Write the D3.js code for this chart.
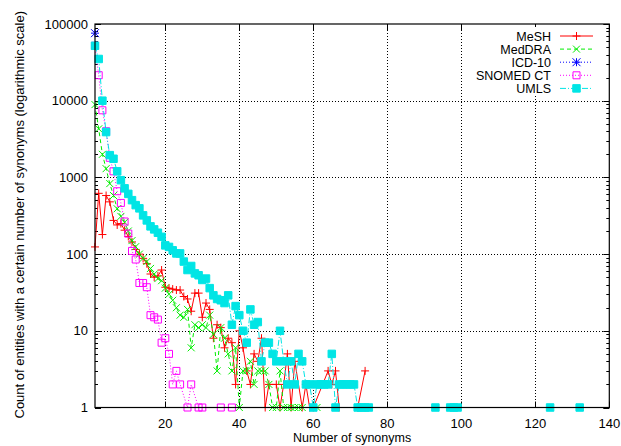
<!DOCTYPE html>
<html>
<head>
<meta charset="utf-8">
<script src="https://cdn.jsdelivr.net/npm/d3@7"></script>
<style>
  body { margin: 0; background: #fff; }
  text { font-family: "Liberation Sans", Arial, sans-serif; }
</style>
</head>
<body>
<div id="chart"></div>
<script>
// synonym counts (x) and number of entities (y) per terminology
var meshX = [1,2,3,4,5,6,7,8,9,10,11,12,13,14,15,16,17,18,19,20,21,22,23,24,25,26,27,28,29,30,31,32,33,34,35,36,37,38,39,40,41,42,43,44,45,46,47,48,50,51,52,53,54,55,57,58,59,60,64,65,66,67,72,74];
var meshY = [124,620,180,580,480,275,240,250,205,170,144,115,100,88,75,55,50,52,62,37,36,35,34,34,28,26,18,31,31,15,23,19,8,12,11,6,8,7,2,10,6,3,2,5,4,8,1,2,2,1,2,5,1,4,1,2,1,1,3,2,3,1,1,3];

var meddraX = [1,2,3,4,5,6,7,8,9,10,11,12,13,14,15,16,17,18,19,20,21,22,23,24,25,26,27,28,29,30,31,32,33,34,35,36,37,38,39,40,41,42,43,44,45,46,47,48,49,50,51,52,53,54,55,56,57,61];
var meddraY = [8900,4300,2000,1300,830,580,390,310,260,200,150,125,100,88,80,65,55,48,45,36,30,25,20,16,15,19,6,12,11,12,11,16,9,3,11,8,5,3,6,1,3,3,4,2,3,3,3,2,1,1,3,1,1,1,1,1,1,1];

var icdX = [1];
var icdY = [76000];

var snomedX = [1,2,3,4,5,6,7,8,9,10,11,12,13,14,15,16,17,18,19,20,21,22,23,24,26,27,29,30,35,38];
var snomedY = [52000,21500,7500,4000,1800,1200,660,465,266,185,110,85,42,42,37,16,15,14,7,8,5,2,3,2,1,2,1,1,1,1];

var umlsX = [1,2,3,4,5,6,7,8,9,10,11,12,13,14,15,16,17,18,19,20,21,22,23,24,25,26,27,28,29,30,31,32,33,34,35,36,37,38,39,40,41,42,43,44,45,46,47,48,49,50,51,52,53,54,55,56,57,58,59,60,61,62,63,64,65,66,67,68,69,70,71,72,73,74,75,93,97,98,99,124,132];
var umlsY = [52000,35000,10000,3900,1950,1750,1200,920,720,610,505,435,395,320,275,230,210,190,168,130,124,112,102,102,80,62,70,56,53,46,48,36,29,26,25,23,29,12,21,16,10,7,19,12,13,4,7,7,5,4,10,4,2,4,2,5,4,2,2,1,2,2,2,2,5,1,2,2,2,2,2,1,1,1,1,1,1,1,1,1,1];

var seriesNames = ["MeSH", "MedDRA", "ICD-10", "SNOMED CT", "UMLS"];
var xTicks = [20, 40, 60, 80, 100, 120, 140];
var yTicks = [1, 10, 100, 1000, 10000, 100000];

var w = 621, h = 446;
var pLeft = 95, pRight = 609.3, pTop = 24, pBottom = 407.5;

var svg = d3.select("#chart").append("svg")
  .attr("width", w).attr("height", h);

var x = d3.scaleLinear().domain([1, 140]).range([pLeft, pRight]);
var y = d3.scaleLog().domain([1, 100000]).range([pBottom, pTop]);

// grid
svg.append("g").selectAll("line")
  .data(xTicks.filter(d => d < 140))
  .enter().append("line")
  .attr("x1", d => Math.round(x(d)) + 0.5).attr("x2", d => Math.round(x(d)) + 0.5)
  .attr("y1", pTop).attr("y2", pBottom)
  .attr("stroke", "#000").attr("stroke-width", 1)
  .attr("stroke-dasharray", "1,2");

svg.append("g").selectAll("line")
  .data(yTicks.filter(d => d > 1 && d < 100000))
  .enter().append("line")
  .attr("x1", pLeft).attr("x2", pRight)
  .attr("y1", d => Math.round(y(d)) + 0.5).attr("y2", d => Math.round(y(d)) + 0.5)
  .attr("stroke", "#000").attr("stroke-width", 1)
  .attr("stroke-dasharray", "1,2");

// ticks (gnuplot style, inside, mirrored)
var minor = [];
for (var e = 0; e < 5; e++) {
  for (var m = 2; m < 10; m++) minor.push(m * Math.pow(10, e));
}
var tickG = svg.append("g").attr("stroke", "#000").attr("stroke-width", 1);
yTicks.forEach(function(d){
  var yy = Math.round(y(d)) + 0.5;
  tickG.append("line").attr("x1", pLeft).attr("x2", pLeft + 6).attr("y1", yy).attr("y2", yy);
  tickG.append("line").attr("x1", pRight - 6).attr("x2", pRight).attr("y1", yy).attr("y2", yy);
});
minor.forEach(function(d){
  var yy = Math.round(y(d)) + 0.5;
  tickG.append("line").attr("x1", pLeft).attr("x2", pLeft + 3).attr("y1", yy).attr("y2", yy);
  tickG.append("line").attr("x1", pRight - 3).attr("x2", pRight).attr("y1", yy).attr("y2", yy);
});
xTicks.forEach(function(d){
  var xx = Math.round(x(d)) + 0.5;
  tickG.append("line").attr("x1", xx).attr("x2", xx).attr("y1", pBottom).attr("y2", pBottom - 6);
  tickG.append("line").attr("x1", xx).attr("x2", xx).attr("y1", pTop).attr("y2", pTop + 6);
});

// tick labels
svg.append("g").selectAll("text")
  .data(yTicks).enter().append("text")
  .attr("x", pLeft - 7).attr("y", d => y(d) + 4.5)
  .attr("text-anchor", "end")
  .style("font-size", "13px")
  .text(d => d);

svg.append("g").selectAll("text")
  .data(xTicks).enter().append("text")
  .attr("x", d => x(d)).attr("y", pBottom + 20)
  .attr("text-anchor", "middle")
  .style("font-size", "13px")
  .text(d => d);

// axis titles
svg.append("text")
  .attr("transform", "translate(24," + ((pTop + pBottom) / 2 - 1) + ") rotate(-90)")
  .attr("text-anchor", "middle")
  .style("font-size", "13px")
  .text("Count of entities with a certain number of synonyms (logarithmic scale)");

svg.append("text")
  .attr("x", (pLeft + pRight) / 2).attr("y", 442)
  .attr("text-anchor", "middle")
  .style("font-size", "12.5px")
  .text("Number of synonyms");

// markers
function marker(kind, s){
  var r = s / 2;
  if (kind == "plus") return "M" + (-r) + ",0H" + r + "M0," + (-r) + "V" + r;
  if (kind == "cross") return "M" + (-r) + "," + (-r) + "L" + r + "," + r + "M" + (-r) + "," + r + "L" + r + "," + (-r);
  if (kind == "star") return marker("plus", s) + marker("cross", s);
  return "M" + (-r) + "," + (-r) + "H" + r + "V" + r + "H" + (-r) + "Z";
}

var styles = [
  {color: "#ff0000", dash: null, kind: "plus", fill: "none", size: 8},
  {color: "#00ee00", dash: "4,3", kind: "cross", fill: "none", size: 7},
  {color: "#0000ff", dash: "1,2", kind: "star", fill: "none", size: 8},
  {color: "#ff00ff", dash: "1,2", kind: "square", fill: "none", size: 7},
  {color: "#00e5e5", dash: "6,2,1,2", kind: "square", fill: "#00e5e5", size: 7.5}
];

var allData = [
  d3.zip(meshX, meshY),
  d3.zip(meddraX, meddraY),
  d3.zip(icdX, icdY),
  d3.zip(snomedX, snomedY),
  d3.zip(umlsX, umlsY)
];

var line = d3.line().x(d => x(d[0])).y(d => y(d[1]));

var plot = svg.append("g");
allData.forEach(function(data, i){
  var st = styles[i];
  var g = plot.append("g");
  g.append("path")
    .datum(data)
    .attr("d", line)
    .attr("fill", "none")
    .attr("stroke", st.color)
    .attr("stroke-width", 1)
    .attr("stroke-dasharray", st.dash);
  g.selectAll("path.pt")
    .data(data).enter().append("path")
    .attr("class", "pt")
    .attr("transform", d => "translate(" + x(d[0]) + "," + y(d[1]) + ")")
    .attr("d", marker(st.kind, st.size))
    .attr("fill", st.fill)
    .attr("stroke", st.color)
    .attr("stroke-width", 1);
});

// legend
var legend = svg.append("g");
legend.append("rect")
  .attr("x", 468).attr("y", 27).attr("width", 138).attr("height", 68)
  .attr("fill", "#fff");
seriesNames.forEach(function(name, i){
  var st = styles[i];
  var yy = 36 + i * 13.1;
  legend.append("text")
    .attr("x", 551).attr("y", yy + 4.5)
    .attr("text-anchor", "end")
    .style("font-size", "12.5px")
    .text(name);
  legend.append("line")
    .attr("x1", 560).attr("x2", 593).attr("y1", yy).attr("y2", yy)
    .attr("stroke", st.color).attr("stroke-width", 1)
    .attr("stroke-dasharray", st.dash);
  legend.append("path")
    .attr("transform", "translate(576.5," + yy + ")")
    .attr("d", marker(st.kind, st.size))
    .attr("fill", st.fill)
    .attr("stroke", st.color);
});

// frame
svg.append("rect")
  .attr("x", pLeft).attr("y", pTop)
  .attr("width", pRight - pLeft).attr("height", pBottom - pTop)
  .attr("fill", "none").attr("stroke", "#000").attr("stroke-width", 1.2);
</script>
</body>
</html>
